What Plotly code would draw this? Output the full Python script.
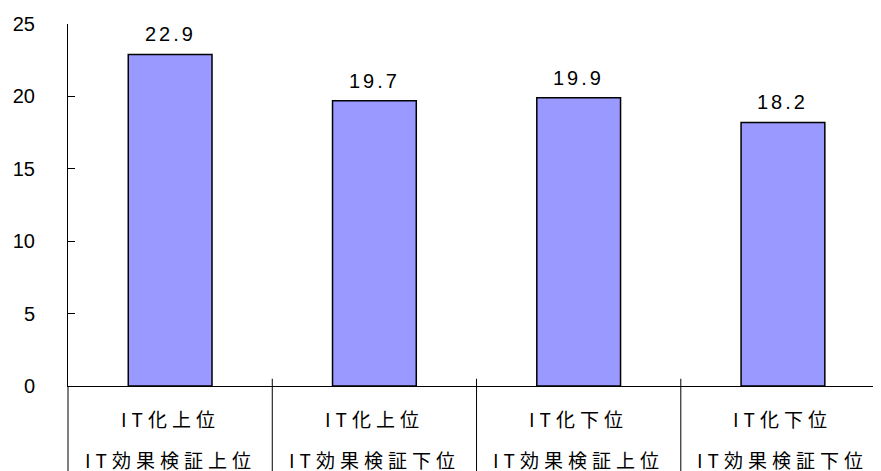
import plotly.graph_objects as go

categories_top = ["IT化上位", "IT化上位", "IT化下位", "IT化下位"]
categories_bottom = ["IT効果検証上位", "IT効果検証下位", "IT効果検証上位", "IT効果検証下位"]
values = [22.9, 19.7, 19.9, 18.2]
y_ticks = [0, 5, 10, 15, 20, 25]

x_idx = list(range(len(values)))

fig = go.Figure()
fig.add_trace(go.Bar(
    x=x_idx, y=values, width=0.41,
    marker=dict(color="#9999FF", line=dict(color="black", width=1.5)),
    hoverinfo="skip",
))

annotations = []
for i, v in zip(x_idx, values):
    annotations.append(dict(
        x=i, y=v, xref="x", yref="y", yanchor="bottom", yshift=7,
        text=f'<span style="letter-spacing:3px">{v:.1f}</span>', showarrow=False,
        font=dict(family="Liberation Sans", size=20, color="black"),
    ))
    annotations.append(dict(
        x=i, y=0, xref="x", yref="paper", yanchor="middle", yshift=-32,
        text=f'<span style="letter-spacing:5px">{categories_top[i]}</span>', showarrow=False,
        font=dict(family="Noto Sans CJK JP", size=19, color="black"),
    ))
    annotations.append(dict(
        x=i, y=0, xref="x", yref="paper", yanchor="middle", yshift=-73,
        text=f'<span style="letter-spacing:5px">{categories_bottom[i]}</span>', showarrow=False,
        font=dict(family="Noto Sans CJK JP", size=19, color="black"),
    ))

shapes = [dict(type="line", xref="paper", yref="paper", x0=0, x1=0, y0=0, y1=-0.4,
               line=dict(color="black", width=1))]
for i in x_idx[:-1]:
    shapes.append(dict(type="line", xref="x", yref="paper", x0=i + 0.5, x1=i + 0.5,
                       y0=0.02, y1=-0.4, line=dict(color="black", width=1)))

# the page body has an 8px default margin, so the figure is sized to fill the rest
fig.update_layout(
    width=873, height=463,
    margin=dict(l=60, r=0, t=16, b=85),
    paper_bgcolor="white", plot_bgcolor="white",
    showlegend=False,
    annotations=annotations,
    shapes=shapes,
    xaxis=dict(range=[-0.5, 3.48], showticklabels=False, ticks="", showgrid=False,
               showline=True, linecolor="black", linewidth=1, zeroline=False,
               fixedrange=True, automargin=False),
    yaxis=dict(range=[0, 25], tickvals=y_ticks, ticks="inside", ticklen=7, tickcolor="black",
               tickwidth=1, showgrid=False, showline=True, linecolor="black", linewidth=1,
               zeroline=False, ticklabelstandoff=28, automargin=False,
               tickfont=dict(family="Liberation Sans", size=20, color="black")),
)

fig.write_html("out.html")
